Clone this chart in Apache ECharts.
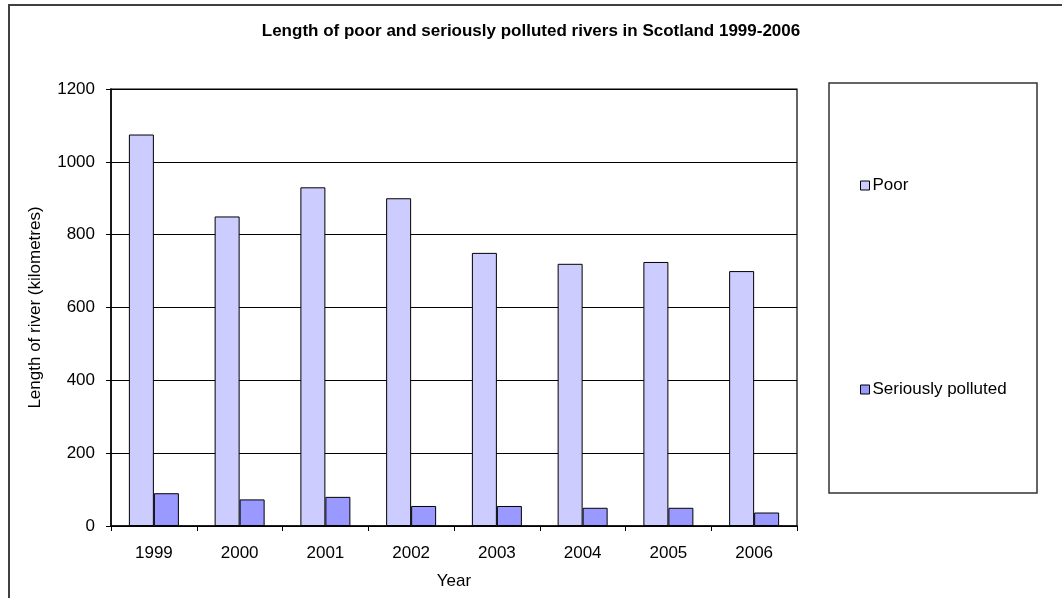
<!DOCTYPE html>
<html>
<head>
<meta charset="utf-8">
<script src="https://cdn.jsdelivr.net/npm/echarts@6/dist/echarts.min.js"></script>
<style>
html,body{margin:0;padding:0;background:#fff;}
#main{width:1062px;height:598px;}
</style>
</head>
<body>
<div id="main"></div>
<script>
var years = ['1999','2000','2001','2002','2003','2004','2005','2006'];
var poor = [1075, 850, 930, 900, 750, 720, 725, 700];
var serious = [90, 73, 80, 55, 55, 50, 50, 37];
var yTicks = {min: 0, max: 1200, interval: 200};

var font = 'Liberation Sans, Arial, sans-serif';
var myChart = echarts.init(document.getElementById('main'));
var option = {
	animation: false,
	backgroundColor: '#fff',
	title: {
		text: 'Length of poor and seriously polluted rivers in Scotland 1999-2006',
		left: 'center',
		top: 18,
		textStyle: {fontFamily: font, fontSize: 17, fontWeight: 'bold', color: '#000'}
	},
	graphic: [
		//outer frame
		{type: 'rect', shape: {x: 9, y: 5, width: 1100, height: 700}, style: {fill: null, stroke: '#404040', lineWidth: 2}},
		//legend box
		{type: 'rect', shape: {x: 829, y: 83, width: 208, height: 410}, style: {fill: null, stroke: '#333', lineWidth: 1.5}}
	],
	legend: [
		{data: ['Poor'], left: 855, top: 172, icon: 'rect', itemWidth: 9, itemHeight: 9,
		 itemStyle: {borderColor: '#000', borderWidth: 1},
		 textStyle: {fontFamily: font, fontSize: 17, color: '#000', padding: [0,0,0,-2]}},
		{data: ['Seriously polluted'], left: 855, top: 376, icon: 'rect', itemWidth: 9, itemHeight: 9,
		 itemStyle: {borderColor: '#000', borderWidth: 1},
		 textStyle: {fontFamily: font, fontSize: 17, color: '#000', padding: [0,0,0,-2]}}
	],
	grid: {left: 111, right: 265, top: 89, bottom: 72, show: true, borderColor: '#000', borderWidth: 1.2},
	xAxis: {
		type: 'category',
		data: years,
		name: 'Year',
		nameLocation: 'middle',
		nameGap: 47,
		nameTextStyle: {fontFamily: font, fontSize: 17, color: '#000'},
		axisLine: {lineStyle: {color: '#000', width: 1.5}},
		axisTick: {show: true, length: 5, lineStyle: {color: '#000'}},
		axisLabel: {fontFamily: font, fontSize: 17, color: '#000', margin: 19}
	},
	yAxis: {
		type: 'value',
		min: yTicks.min,
		max: yTicks.max,
		interval: yTicks.interval,
		name: 'Length of river (kilometres)',
		nameLocation: 'middle',
		nameGap: 67,
		nameTextStyle: {fontFamily: font, fontSize: 17, color: '#000'},
		axisLine: {show: true, lineStyle: {color: '#000', width: 1.5}},
		axisTick: {show: true, length: 5, lineStyle: {color: '#000'}},
		axisLabel: {fontFamily: font, fontSize: 17, color: '#000', margin: 16,
			formatter: function (v) { return String(v); }},
		splitLine: {lineStyle: {color: '#000', width: 1.2}}
	},
	series: [
		{
			name: 'Poor',
			type: 'bar',
			data: poor,
			barWidth: 25,
			barGap: '0%',
			itemStyle: {color: '#CCCCFF', borderColor: '#000', borderWidth: 1}
		},
		{
			name: 'Seriously polluted',
			type: 'bar',
			data: serious,
			barWidth: 25,
			itemStyle: {color: '#9999FF', borderColor: '#000', borderWidth: 1}
		}
	]
};
myChart.setOption(option, true);
</script>
</body>
</html>
